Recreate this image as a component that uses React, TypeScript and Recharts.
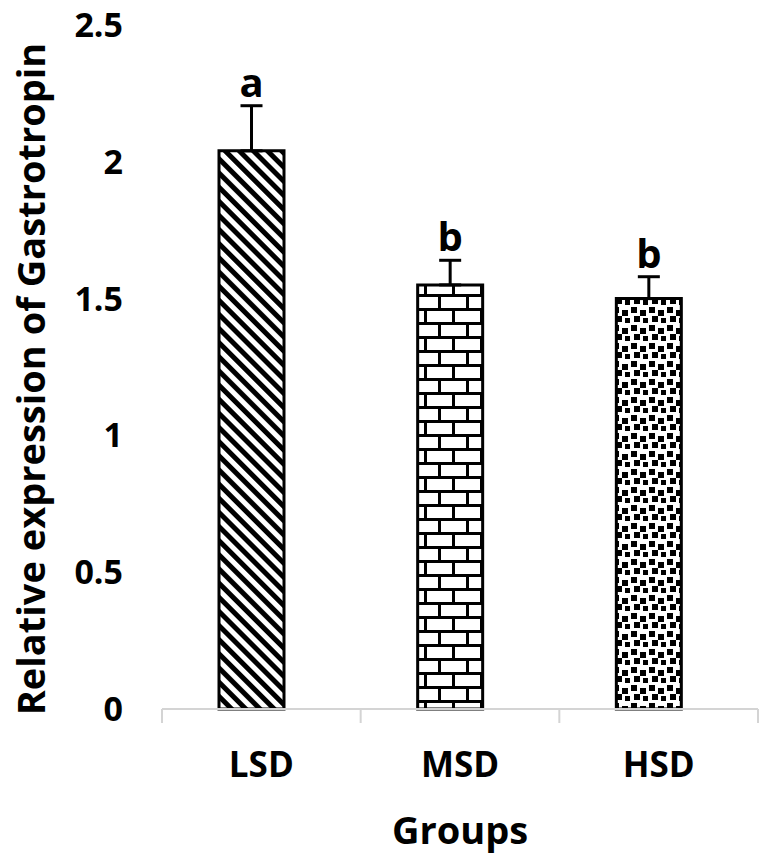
import React from 'react';
import { BarChart, Bar, XAxis, YAxis, ErrorBar, Cell, LabelList, Label } from 'recharts';

const groups = ['LSD', 'MSD', 'HSD'];
const means = [2.04, 1.55, 1.5];
const errUp = [0.165, 0.09, 0.08];
const letters = ['a', 'b', 'b'];
const yTicks = [0, 0.5, 1, 1.5, 2, 2.5];

const patternIds = ['diag', 'brick', 'dots'];
const FONT = '"Open Sans", sans-serif';

const data = groups.map((g, i) => ({
  group: g,
  mean: means[i],
  err: [0, errUp[i]],
  letter: letters[i],
}));

const GroupTick = (props: any) => {
  const { x, y, payload, index, visibleTicksCount, width } = props;
  const band = width / visibleTicksCount;
  const left = x - band / 2;
  const right = x + band / 2;
  return (
    <g>
      <line x1={left} y1={y} x2={left} y2={y + 14} stroke="#d4d4d4" strokeWidth={2} />
      {index === visibleTicksCount - 1 && (
        <line x1={right} y1={y} x2={right} y2={y + 14} stroke="#d4d4d4" strokeWidth={2} />
      )}
      <text x={x} y={y + 68} textAnchor="middle" fontFamily={FONT} fontWeight={700} fontSize={35} fill="#000">
        {payload.value}
      </text>
    </g>
  );
};

const LetterLabel = (props: any) => {
  const { x, y, width, height, index, value } = props;
  const errPx = (errUp[index] / means[index]) * height;
  return (
    <text x={x + width / 2} y={y - errPx - 9} textAnchor="middle" fontFamily={FONT} fontWeight={700} fontSize={40} fill="#000">
      {value}
    </text>
  );
};

export default function App() {
  return (
    <div style={{ position: 'absolute', left: 0, top: 0, width: 768, height: 863, background: '#fff' }}>
      <BarChart width={768} height={863} data={data} margin={{ top: 25, right: 10, left: 0, bottom: 0 }} barGap={0}>
        <defs>
          <pattern id="diag" patternUnits="userSpaceOnUse" width={10} height={10} patternTransform="rotate(-45)">
            <rect x={0} y={0} width={10} height={10} fill="#fff" />
            <rect x={0} y={0} width={5} height={10} fill="#000" />
          </pattern>
          <pattern id="brick" patternUnits="userSpaceOnUse" width={28} height={28}>
            <rect x={0} y={0} width={28} height={28} fill="#fff" />
            <rect x={0} y={0} width={28} height={3} fill="#000" />
            <rect x={0} y={14} width={28} height={3} fill="#000" />
            <rect x={4} y={0} width={3} height={14} fill="#000" />
            <rect x={18} y={14} width={3} height={14} fill="#000" />
          </pattern>
          <pattern id="dots" patternUnits="userSpaceOnUse" width={18} height={18}>
            <rect x={0} y={0} width={18} height={18} fill="#fff" />
            <rect x={1} y={1} width={6} height={6} fill="#000" />
            <rect x={10} y={4} width={6} height={6} fill="#000" />
            <rect x={4} y={10} width={6} height={6} fill="#000" />
            <rect x={13} y={12} width={5} height={5} fill="#000" />
          </pattern>
        </defs>
        <XAxis
          dataKey="group"
          height={154}
          axisLine={{ stroke: '#d4d4d4', strokeWidth: 2 }}
          tickLine={false}
          tickSize={0}
          tickMargin={0}
          tick={<GroupTick />}
          interval={0}
        >
          <Label
            content={(p: any) => {
              const vb = p.viewBox;
              return (
                <text x={vb.x + vb.width / 2} y={vb.y + 135} textAnchor="middle" fontFamily={FONT} fontWeight={700} fontSize={38} fill="#000">
                  Groups
                </text>
              );
            }}
          />
        </XAxis>
        <YAxis
          width={162}
          domain={[0, 2.5]}
          ticks={yTicks}
          axisLine={false}
          tickLine={false}
          tickSize={0}
          tickMargin={39}
          tick={{ fontFamily: FONT, fontWeight: 700, fontSize: 34, fill: '#000' }}
        >
          <Label
            content={(p: any) => {
              const vb = p.viewBox;
              const cx = 30;
              const cy = vb.y + vb.height / 2 + 12;
              return (
                <text
                  x={cx}
                  y={cy}
                  transform={`rotate(-90, ${cx}, ${cy})`}
                  textAnchor="middle"
                  dominantBaseline="central"
                  fontFamily={FONT}
                  fontWeight={700}
                  fontSize={38}
                  fill="#000"
                >
                  Relative expression of Gastrotropin
                </text>
              );
            }}
          />
        </YAxis>
        <Bar dataKey="mean" barSize={65} stroke="#000" strokeWidth={3} isAnimationActive={false}>
          {data.map((d, i) => (
            <Cell key={d.group} fill={`url(#${patternIds[i]})`} />
          ))}
          <ErrorBar dataKey="err" direction="y" width={11} stroke="#000" strokeWidth={3} />
          <LabelList dataKey="letter" content={<LetterLabel />} />
        </Bar>
        <Bar dataKey="spacer" barSize={20} fill="none" isAnimationActive={false} />
      </BarChart>
    </div>
  );
}
